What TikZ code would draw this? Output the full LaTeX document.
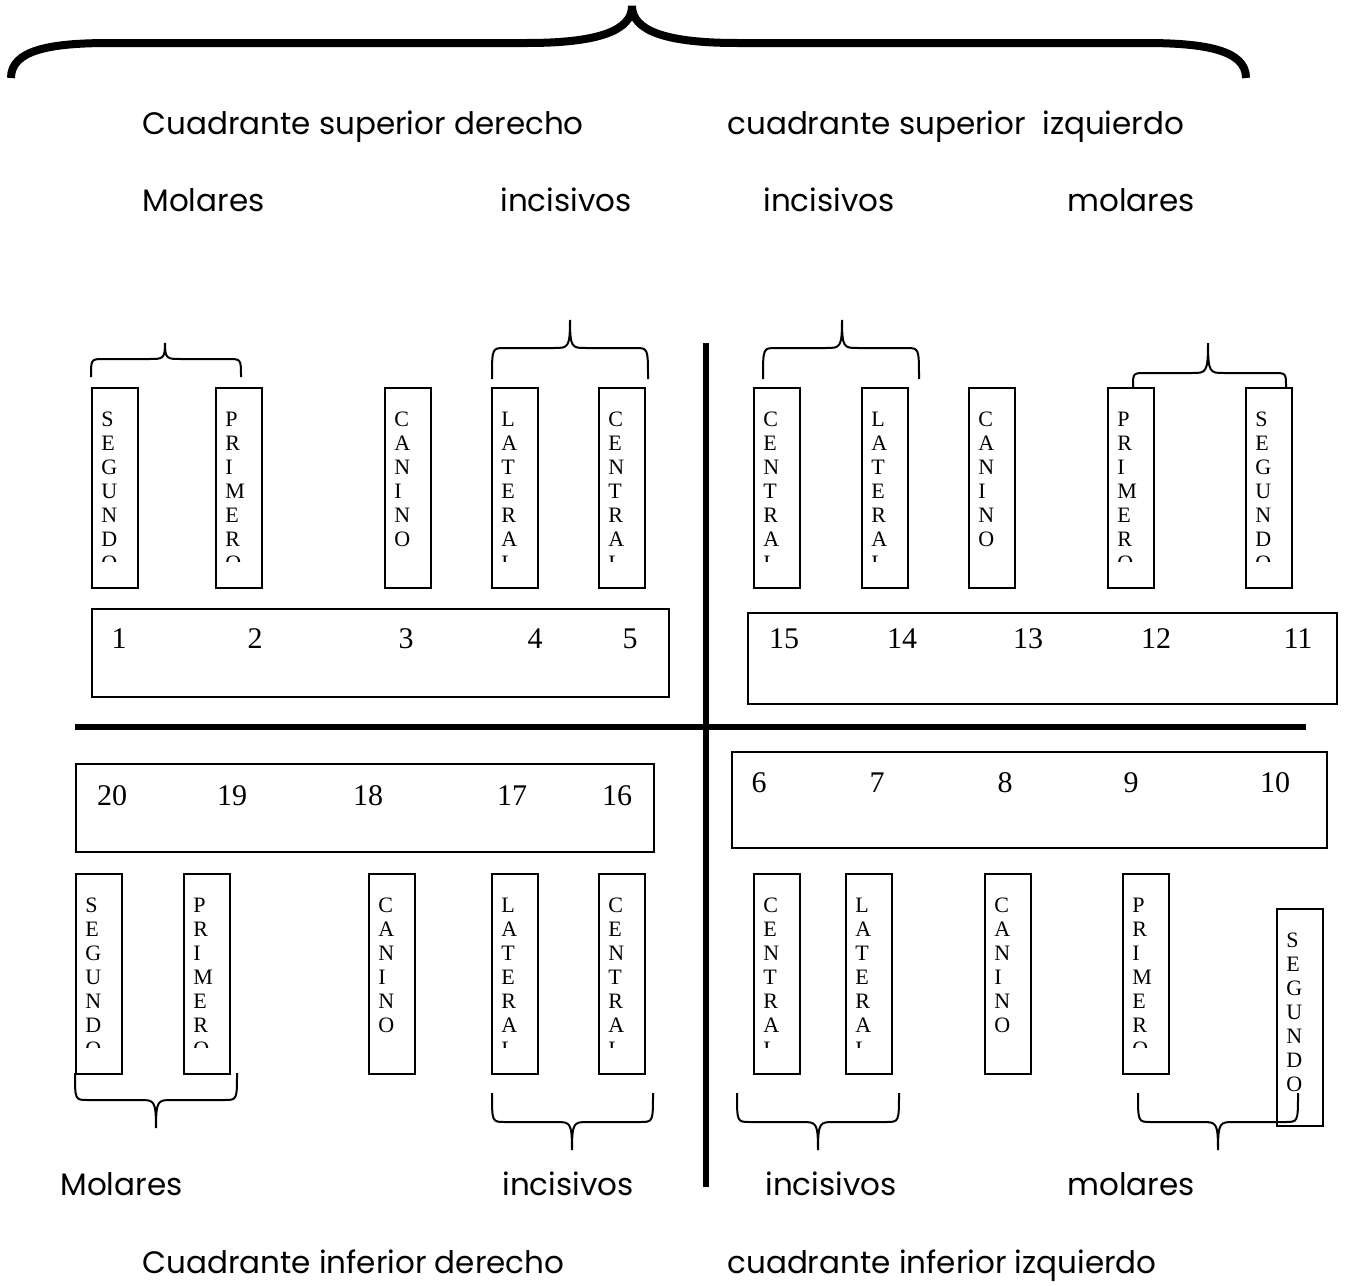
\documentclass[tikz,border=0pt]{standalone}
\usepackage{fontspec}
\setmainfont{Liberation Serif}
\newfontfamily\gothic{Poppins}
\newcommand\tooth[5]{% #1 name, #2 x left, #3 y top, #4 height (px), #5 letters
  \node[toothbox, minimum height=#4*0.5pt] (#1) at (#2,#3) {};
  \begin{scope}
    \clip (#2,#3) rectangle (#2+46,#3+#4-26);
    \foreach \l [count=\i] in {#5}
      \node[letter] (#1-\i) at (#2+10,#3+15+\i*24) {\l};
  \end{scope}}
\newcommand\numbox[5]{% name x1 y1 x2 y2
  \node[numbox, minimum width=(#4-#2)*0.5pt, minimum height=(#5-#3)*0.5pt] (#1) at (#2,#3) {};}
\newcommand\cbrace[6]{% xl xr yend ymid xtip ytip
  \draw[thinbrace] (#1,#3) .. controls (#1,#4) .. (#1+13,#4) -- (#5-16,#4)
    .. controls (#5-2,#4) and (#5,#4) .. (#5,#6) .. controls (#5,#4) and (#5+2,#4) .. (#5+16,#4)
    -- (#2-13,#4) .. controls (#2,#4) .. (#2,#3);}
\begin{document}
\begin{tikzpicture}[x=0.5pt,y=-0.5pt,
  toothbox/.style={draw, line width=1pt, minimum width=23pt, inner sep=0pt, anchor=north west},
  numbox/.style={draw, line width=1pt, inner sep=0pt, anchor=north west},
  letter/.style={anchor=base west, inner sep=0pt, font=\fontsize{11}{12}\selectfont},
  num/.style={anchor=base, inner sep=0pt, font=\fontsize{15}{18}\selectfont},
  lbl/.style={anchor=base west, inner sep=0pt, font=\gothic\fontsize{15.5}{18}\selectfont},
  thinbrace/.style={line width=1pt},
  bigbrace/.style={line width=4pt},
  axis/.style={line width=2.6pt}]
\path[use as bounding box, fill=white] (0,0) rectangle (1359,1285);

% big top brace
\draw[bigbrace] (11,78) .. controls (11,50) and (50,43) .. (110,43) -- (527,43)
  .. controls (600,43) and (632,30) .. (632,6)
  .. controls (632,30) and (664,43) .. (737,43) -- (1145,43)
  .. controls (1205,43) and (1246,50) .. (1246,78);

% labels top
\node[lbl] (tq1) at (142,134) {Cuadrante superior derecho};
\node[lbl] (tq2) at (727,134) {cuadrante superior~ izquierdo};
\node[lbl] (tm1) at (142,211) {Molares};
\node[lbl] (ti1) at (500,211) {incisivos};
\node[lbl] (ti2) at (763,211) {incisivos};
\node[lbl] (tm2) at (1067,211) {molares};

% axes
\coordinate (vtop) at (706,343);
\coordinate (vbot) at (706,1187);
\coordinate (hl) at (75,727);
\coordinate (hr) at (1306,727);
\draw[axis] (vtop) -- (vbot);
\draw[axis] (hl) -- (hr);

% upper left teeth
\tooth{ul1}{91}{387}{200}{S,E,G,U,N,D,O}
\tooth{ul2}{215}{387}{200}{P,R,I,M,E,R,O}
\tooth{ul3}{384}{387}{200}{C,A,N,I,N,O}
\tooth{ul4}{491}{387}{200}{L,A,T,E,R,A,L}
\tooth{ul5}{598}{387}{200}{C,E,N,T,R,A,L}
% upper right teeth
\tooth{ur1}{753}{387}{200}{C,E,N,T,R,A,L}
\tooth{ur2}{861}{387}{200}{L,A,T,E,R,A,L}
\tooth{ur3}{968}{387}{200}{C,A,N,I,N,O}
\tooth{ur4}{1107}{387}{200}{P,R,I,M,E,R,O}
\tooth{ur5}{1245}{387}{200}{S,E,G,U,N,D,O}
% lower left teeth
\tooth{ll1}{75}{873}{200}{S,E,G,U,N,D,O}
\tooth{ll2}{183}{873}{200}{P,R,I,M,E,R,O}
\tooth{ll3}{368}{873}{200}{C,A,N,I,N,O}
\tooth{ll4}{491}{873}{200}{L,A,T,E,R,A,L}
\tooth{ll5}{598}{873}{200}{C,E,N,T,R,A,L}
% lower right teeth
\tooth{lr1}{753}{873}{200}{C,E,N,T,R,A,L}
\tooth{lr2}{845}{873}{200}{L,A,T,E,R,A,L}
\tooth{lr3}{984}{873}{200}{C,A,N,I,N,O}
\tooth{lr4}{1122}{873}{200}{P,R,I,M,E,R,O}
\tooth{lr5}{1276}{908}{217}{S,E,G,U,N,D,O}

% braces
\cbrace{91}{241}{377}{359}{165}{343}
\cbrace{492}{648}{379}{348}{570}{320}
\cbrace{763}{919}{379}{348}{842}{320}
\cbrace{1133}{1286}{387}{373}{1208}{343}
\cbrace{75}{237}{1073}{1100}{156}{1128}
\cbrace{492}{653}{1093}{1122}{572}{1150}
\cbrace{737}{899}{1093}{1122}{818}{1150}
\cbrace{1138}{1298}{1093}{1122}{1218}{1150}

% number boxes
\numbox{nb1}{91}{608}{668}{696}
\numbox{nb2}{747}{612}{1336}{703}
\numbox{nb3}{75}{763}{653}{851}
\numbox{nb4}{731}{751}{1326}{847}

\node[num] (n1) at (119,648) {1};
\node[num] (n2) at (255,648) {2};
\node[num] (n3) at (406,648) {3};
\node[num] (n4) at (535,648) {4};
\node[num] (n5) at (630,648) {5};
\node[num] (n15) at (784,648) {15};
\node[num] (n14) at (902,648) {14};
\node[num] (n13) at (1028,648) {13};
\node[num] (n12) at (1156,648) {12};
\node[num] (n11) at (1298,648) {11};
\node[num] (n20) at (112,805) {20};
\node[num] (n19) at (232,805) {19};
\node[num] (n18) at (368,805) {18};
\node[num] (n17) at (512,805) {17};
\node[num] (n16) at (617,805) {16};
\node[num] (n6) at (759,792) {6};
\node[num] (n7) at (877,792) {7};
\node[num] (n8) at (1005,792) {8};
\node[num] (n9) at (1131,792) {9};
\node[num] (n10) at (1275,792) {10};

% labels bottom
\node[lbl] (bm1) at (60,1195) {Molares};
\node[lbl] (bi1) at (502,1195) {incisivos};
\node[lbl] (bi2) at (765,1195) {incisivos};
\node[lbl] (bm2) at (1067,1195) {molares};
\node[lbl] (bq1) at (142,1273) {Cuadrante inferior derecho};
\node[lbl] (bq2) at (727,1273) {cuadrante inferior izquierdo};
\end{tikzpicture}
\end{document}
